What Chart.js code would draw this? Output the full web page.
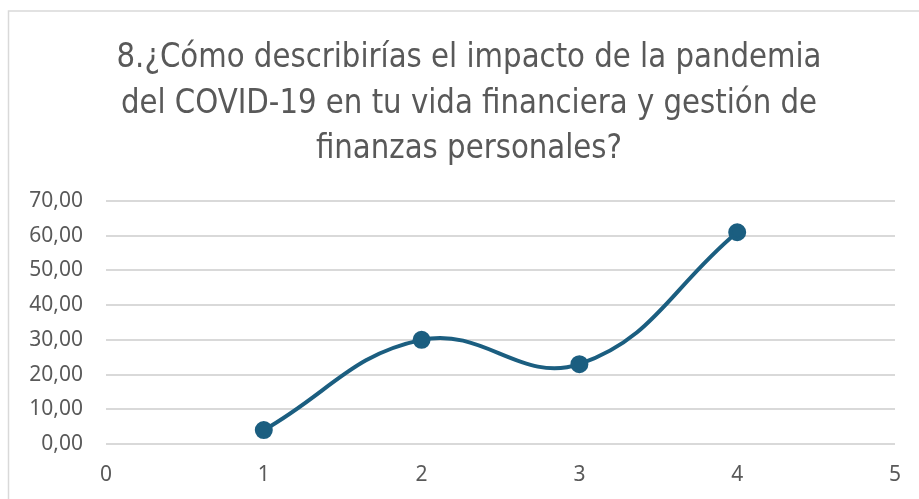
<!DOCTYPE html>
<html>
<head>
<meta charset="utf-8">
<script src="https://cdn.jsdelivr.net/npm/chart.js@4/dist/chart.umd.min.js"></script>
<style>
html,body{margin:0;padding:0;background:#fff;}
#wrap{position:absolute;left:0;top:0;width:919px;height:499px;}
</style>
</head>
<body>
<div id="wrap"><canvas id="c" width="919" height="499"></canvas></div>
<script>
const titleLines = ["8.¿Cómo describirías el impacto de la pandemia", "del COVID-19 en tu vida financiera y gestión de", "finanzas personales?"];
const xValues = [1, 2, 3, 4];
const yValues = [4, 30, 23, 61];
const xMin = 0, xMax = 5, xStep = 1;
const yMin = 0, yMax = 70, yStep = 10;

const points = xValues.map((x, i) => ({x: x, y: yValues[i]}));

const frame = {
  id: 'frame',
  beforeDraw(chart) {
    const ctx = chart.ctx;
    ctx.save();
    ctx.strokeStyle = '#d9d9d9';
    ctx.lineWidth = 1.5;
    ctx.strokeRect(8.5, 11, 1000, 1000);
    ctx.restore();
  }
};

const titleDraw = {
  id: 'titleDraw',
  afterDraw(chart, args, opts) {
    const ctx = chart.ctx;
    ctx.save();
    ctx.font = opts.size + 'px ' + opts.family;
    ctx.fillStyle = opts.color;
    ctx.textAlign = 'center';
    ctx.textBaseline = 'alphabetic';
    let maxW = 0;
    opts.lines.forEach(l => { maxW = Math.max(maxW, ctx.measureText(l).width); });
    const sx = opts.width / maxW;
    opts.lines.forEach((l, i) => {
      ctx.save();
      ctx.translate(opts.cx, opts.baselines[i]);
      ctx.scale(sx, 1);
      ctx.fillText(l, 0, 0);
      ctx.restore();
    });
    ctx.restore();
  }
};

new Chart(document.getElementById('c'), {
  type: 'scatter',
  data: {
    datasets: [{
      data: points,
      showLine: true,
      borderColor: '#1b5e80',
      backgroundColor: '#1b5e80',
      borderWidth: 4,
      pointRadius: 7,
      pointHoverRadius: 7,
      tension: 0.42,
      cubicInterpolationMode: 'default'
    }]
  },
  plugins: [frame, titleDraw],
  options: {
    responsive: false,
    animation: false,
    devicePixelRatio: 1,
    layout: { padding: { left: 0, right: 22, top: 201, bottom: 0 } },
    plugins: {
      legend: { display: false },
      tooltip: { enabled: false },
      title: { display: false },
      titleDraw: {
        lines: titleLines,
        family: '"DejaVu Sans Condensed", "DejaVu Sans", sans-serif',
        size: 34,
        color: '#595959',
        width: 705,
        cx: 469,
        baselines: [67, 112.5, 158]
      }
    },
    scales: {
      x: {
        type: 'linear',
        min: xMin, max: xMax,
        ticks: { stepSize: xStep, color: '#595959', font: { family: 'Noto Sans', size: 21 }, padding: 18 },
        grid: { display: false, drawTicks: false },
        border: { display: false },
        afterFit(s) { s.height = 55; }
      },
      y: {
        type: 'linear',
        min: yMin, max: yMax,
        ticks: {
          stepSize: yStep, color: '#595959', font: { family: 'Noto Sans', size: 21 }, padding: 23,
          callback: v => v.toFixed(2).replace('.', ',')
        },
        grid: { color: '#d9d9d9', lineWidth: 2, drawTicks: false },
        border: { display: false },
        afterFit(s) { s.width = 106; }
      }
    }
  }
});
</script>
</body>
</html>
